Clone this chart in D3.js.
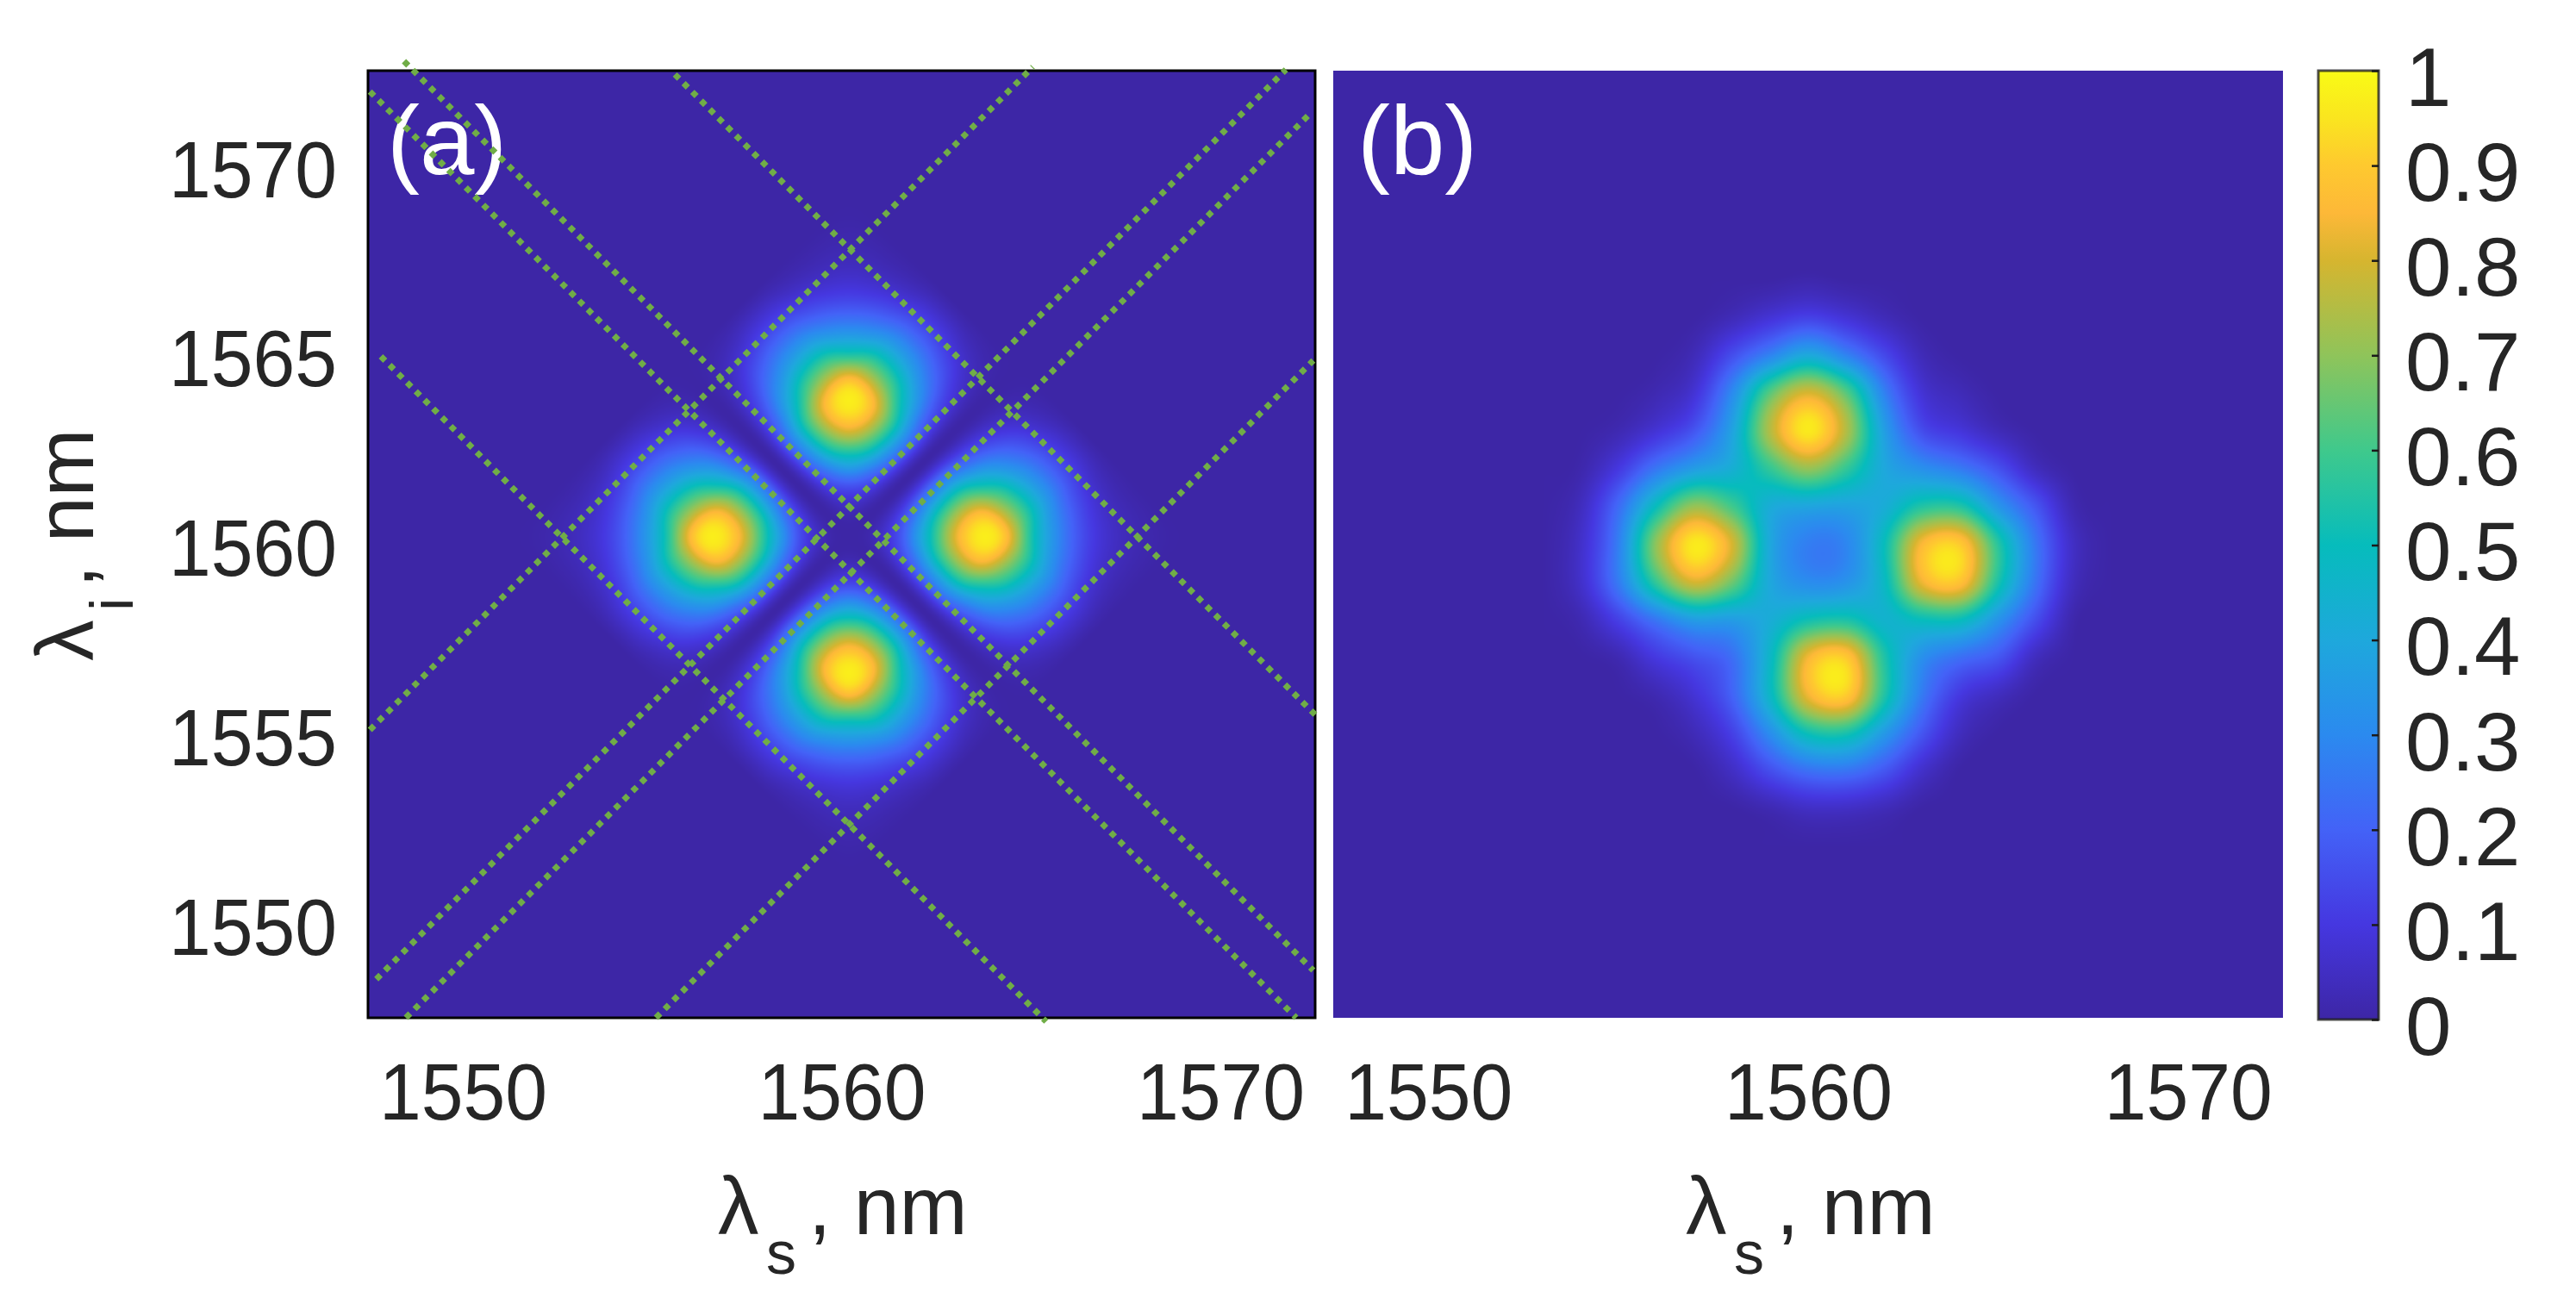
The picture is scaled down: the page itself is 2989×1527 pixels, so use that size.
<!DOCTYPE html>
<html>
<head>
<meta charset="utf-8">
<style>
  body { margin: 0; background: white; }
  text { font-family: "Liberation Sans", Arial, sans-serif; fill: #262626; }
</style>
<script src="https://d3js.org/d3.v7.min.js"></script>
</head>
<body>
<script>
// wavelength axes, nm
const axisDomain = [1547.5, 1572.5];
const xTicks = [1550, 1560, 1570];
const yTicks = [1550, 1555, 1560, 1565, 1570];
const barTicks = [0, 0.1, 0.2, 0.3, 0.4, 0.5, 0.6, 0.7, 0.8, 0.9, 1];

// colorbar
const barStops = [0, 0.1, 0.2, 0.3, 0.4, 0.5, 0.6, 0.7, 0.8, 0.85, 0.9, 0.95, 1];
const barColors = ["#3d26a6", "#4537e0", "#4362f7", "#2b8aef", "#1ea8dc", "#06bcbc",
  "#3fc98c", "#8fc45a", "#d6b52f", "#fdb838", "#fec92f", "#fae51f", "#f9fb15"];

// panel (a), percent of max. The pattern follows the diagonals so it is read
// along them: rows are ls+li, columns are li-ls, 1 nm apart
const gridAsum = [3112.4, 3113.4, 3114.4, 3115.4, 3116.4, 3117.4, 3118.4, 3119.4, 3120.4,
  3121.4, 3122.4, 3123.4, 3124.4, 3125.4, 3126.4, 3127.4, 3128.4];
const gridAdiff = [-8, -7, -6, -5, -4, -3, -2, -1, 0, 1, 2, 3, 4, 5, 6, 7, 8];
const valuesA = [
  [1,2,3,5,8,8,5,2,0,2,5,8,8,5,3,2,1],
  [2,5,9,15,21,21,15,6,0,6,15,21,21,15,9,5,2],
  [3,9,18,29,40,39,28,12,0,12,28,39,40,29,18,9,3],
  [5,15,29,46,65,64,45,19,0,19,45,64,65,46,29,15,5],
  [8,21,40,65,92,90,63,27,0,27,63,90,92,65,40,21,8],
  [8,21,39,64,90,88,62,26,0,26,62,88,90,64,39,21,8],
  [5,15,28,45,63,62,44,18,0,18,44,62,63,45,28,15,5],
  [2,6,12,19,27,26,18,8,0,8,18,26,27,19,12,6,2],
  [0,0,0,0,0,0,0,0,0,0,0,0,0,0,0,0,0],
  [2,6,12,19,27,26,18,8,0,8,18,26,27,19,12,6,2],
  [5,15,28,45,63,62,44,18,0,18,44,62,63,45,28,15,5],
  [8,21,39,64,90,88,62,26,0,26,62,88,90,64,39,21,8],
  [8,21,40,65,92,90,63,27,0,27,63,90,92,65,40,21,8],
  [5,15,29,46,65,64,45,19,0,19,45,64,65,46,29,15,5],
  [3,9,18,29,40,39,28,12,0,12,28,39,40,29,18,9,3],
  [2,5,9,15,21,21,15,6,0,6,15,21,21,15,9,5,2],
  [1,2,3,5,8,8,5,2,0,2,5,8,8,5,3,2,1]
];

// panel (b), percent of max, rows are li, columns are ls
const gridBx = [1552, 1553, 1554, 1555, 1556, 1557, 1558, 1559, 1560,
  1561, 1562, 1563, 1564, 1565, 1566, 1567, 1568];
const gridBy = [1568, 1567, 1566, 1565, 1564, 1563, 1562, 1561, 1560,
  1559, 1558, 1557, 1556, 1555, 1554, 1553, 1552];
const valuesB = [
  [0,0,0,0,0,0,0,0,0,0,0,0,0,0,0,0,0],
  [0,0,0,0,0,0,0,0,1,0,0,0,0,0,0,0,0],
  [0,0,0,0,0,0,3,8,12,8,3,0,0,0,0,0,0],
  [0,0,0,0,0,3,15,28,40,28,14,3,0,0,0,0,0],
  [0,0,0,0,2,8,30,63,80,63,28,8,3,0,0,0,0],
  [0,0,0,2,8,17,38,75,96,75,37,15,9,3,0,0,0],
  [0,0,1,10,25,36,43,58,71,58,40,32,26,16,4,0,0],
  [0,0,4,22,50,71,60,42,39,38,42,55,55,34,17,2,0],
  [0,0,6,27,70,96,80,40,27,29,50,85,90,56,25,5,0],
  [0,0,6,26,58,80,66,40,31,33,48,83,88,54,24,4,0],
  [0,0,2,12,25,36,36,42,52,54,45,50,50,33,15,1,0],
  [0,0,0,2,10,16,23,47,84,90,55,32,23,17,4,0,0],
  [0,0,0,0,2,8,20,47,83,90,55,26,10,4,0,0,0],
  [0,0,0,0,0,3,12,31,51,53,35,17,4,0,0,0,0],
  [0,0,0,0,0,0,5,15,23,24,17,6,0,0,0,0,0],
  [0,0,0,0,0,0,0,2,5,5,3,0,0,0,0,0,0],
  [0,0,0,0,0,0,0,0,0,0,0,0,0,0,0,0,0]
];

// green dotted lines in panel (a): x+y = const and y-x = const, with x start / end
const fallSums = [3128, 3112.8, 3121.2, 3119.5];
const fallFrom = [1555.6, 1547.84, 1548.45, 1547.55];
const fallTo = [1572.5, 1565.4, 1572.45, 1572];
const riseDiffs = [7.55, 0.8, -1, -7.6];
const riseFrom = [1547.55, 1547.72, 1548.5, 1555.1];
const riseTo = [1565.05, 1571.73, 1572.4, 1572.45];

const W = 2989, H = 1527;
const plotTop = 82, plotBottom = 1181;
const fontSize = 93;

const svg = d3.select("body").append("svg")
  .attr("width", W)
  .attr("height", H)
  .style("display", "block");

const y = d3.scaleLinear().domain(axisDomain).range([plotBottom, plotTop]);
const xA = d3.scaleLinear().domain(axisDomain).range([427, 1526]);
const xB = d3.scaleLinear().domain(axisDomain).range([1547, 2649]);
const barY = d3.scaleLinear().domain([0, 1]).range([1183, 82]);
const color = d3.scaleLinear().domain(barStops).range(barColors).interpolate(d3.interpolateRgb);

// lookup so the per pixel loop doesn't parse a color string each time
const lut = d3.range(1025).map(i => d3.rgb(color(i / 1024)));

function cubic(p0, p1, p2, p3, t) {
  return p1 + 0.5 * t * (p2 - p0 + t * (2 * p0 - 5 * p1 + 4 * p2 - p3 + t * (3 * (p1 - p2) + p3 - p0)));
}

const indexOf = grid => d3.scaleLinear()
  .domain([grid[0], grid[grid.length - 1]])
  .range([0, grid.length - 1]);

// paints the table on a canvas, smoothed like shading interp, returns a data url
// locate gives the fractional [row, col] of a wavelength pair
function heatmap(values, locate, x) {
  const wPx = Math.round(x.range()[1] - x.range()[0]);
  const hPx = plotBottom - plotTop;
  const canvas = document.createElement("canvas");
  canvas.width = wPx;
  canvas.height = hPx;
  const ctx = canvas.getContext("2d");
  const img = ctx.createImageData(wPx, hPx);
  const at = (r, c) => (values[r] && values[r][c]) || 0;

  for (let j = 0; j < hPx; j++) {
    const li = y.invert(plotTop + j + 0.5);
    for (let i = 0; i < wPx; i++) {
      const [fr, fc] = locate(x.invert(x.range()[0] + i + 0.5), li);
      const r = Math.floor(fr), tr = fr - r;
      const c = Math.floor(fc), tc = fc - c;
      const rows = [-1, 0, 1, 2].map(k =>
        cubic(at(r + k, c - 1), at(r + k, c), at(r + k, c + 1), at(r + k, c + 2), tc));
      const v = Math.max(0, Math.min(100, cubic(rows[0], rows[1], rows[2], rows[3], tr))) / 100;
      const rgb = lut[Math.round(v * 1024)];
      const p = 4 * (j * wPx + i);
      img.data[p] = rgb.r;
      img.data[p + 1] = rgb.g;
      img.data[p + 2] = rgb.b;
      img.data[p + 3] = 255;
    }
  }
  ctx.putImageData(img, 0, 0);
  return canvas.toDataURL();
}

function drawPanel(values, locate, x) {
  svg.append("image")
    .attr("x", x.range()[0])
    .attr("y", plotTop)
    .attr("width", x.range()[1] - x.range()[0])
    .attr("height", plotBottom - plotTop)
    .attr("preserveAspectRatio", "none")
    .attr("href", heatmap(values, locate, x));
}

const sumIndex = indexOf(gridAsum), diffIndex = indexOf(gridAdiff);
const rowB = indexOf(gridBy), colB = indexOf(gridBx);
drawPanel(valuesA, (ls, li) => [sumIndex(ls + li), diffIndex(li - ls)], xA);
drawPanel(valuesB, (ls, li) => [rowB(li), colB(ls)], xB);

// black frame on (a) only
svg.append("rect")
  .attr("x", xA.range()[0])
  .attr("y", plotTop)
  .attr("width", xA.range()[1] - xA.range()[0])
  .attr("height", plotBottom - plotTop)
  .attr("fill", "none")
  .attr("stroke", "black")
  .attr("stroke-width", 3);

// panel letters, the green dots run over the (a)
svg.append("text").attr("x", 449).attr("y", 202)
  .style("font-size", "114px").style("fill", "white").text("(a)");
svg.append("text").attr("x", 1575).attr("y", 202)
  .style("font-size", "114px").style("fill", "white").text("(b)");

const segment = d3.line().x(d => xA(d[0])).y(d => y(d[1]));
const fallLines = fallSums.map((s, i) => [[fallFrom[i], s - fallFrom[i]], [fallTo[i], s - fallTo[i]]]);
const riseLines = riseDiffs.map((s, i) => [[riseFrom[i], s + riseFrom[i]], [riseTo[i], s + riseTo[i]]]);

svg.append("g")
  .selectAll("path")
  .data(fallLines.concat(riseLines))
  .join("path")
    .attr("d", segment)
    .attr("fill", "none")
    .attr("stroke", "#70ad47")
    .attr("stroke-width", 7)
    .attr("stroke-dasharray", "7 7.3");

function styleAxis(g, size) {
  g.select(".domain").remove();
  g.selectAll("text")
    .style("font-size", size + "px")
    .style("font-family", "Liberation Sans")
    .style("fill", "#262626");
}

// the figure was stretched a bit, so the digits are narrower than the font's
function squeeze(g) {
  g.selectAll("text")
    .attr("textLength", 195)
    .attr("lengthAdjust", "spacingAndGlyphs");
}

[xA, xB].forEach(x => {
  svg.append("g")
    .attr("transform", `translate(0, ${plotBottom})`)
    .call(d3.axisBottom(x).tickValues(xTicks).tickFormat(d3.format("d")).tickSize(0).tickPadding(52))
    .call(g => styleAxis(g, fontSize))
    .call(squeeze);
});

svg.append("g")
  .attr("transform", `translate(${xA.range()[0]}, 0)`)
  .call(d3.axisLeft(y).tickValues(yTicks).tickFormat(d3.format("d")).tickSize(0).tickPadding(36))
  .call(g => styleAxis(g, fontSize))
  .call(squeeze)
  .call(g => g.selectAll("text").attr("dy", "0.39em"));

// colorbar
const defs = svg.append("defs");
const gradient = defs.append("linearGradient")
  .attr("id", "barGradient")
  .attr("x1", 0).attr("x2", 0)
  .attr("y1", 1).attr("y2", 0);
gradient.selectAll("stop")
  .data(barStops)
  .join("stop")
    .attr("offset", d => d)
    .attr("stop-color", (d, i) => barColors[i]);

svg.append("rect")
  .attr("x", 2690)
  .attr("y", barY(1))
  .attr("width", 70)
  .attr("height", barY(0) - barY(1))
  .attr("fill", "url(#barGradient)")
  .attr("stroke", "#222")
  .attr("stroke-opacity", 0.8)
  .attr("stroke-width", 3);

svg.append("g")
  .attr("transform", "translate(2760, 0)")
  .call(d3.axisRight(barY).tickValues(barTicks).tickFormat(d => String(d)).tickSizeInner(-8).tickSizeOuter(0).tickPadding(31))
  .call(g => styleAxis(g, 96))
  .call(g => g.selectAll("text").attr("dy", "0.42em"))
  .call(g => g.selectAll("line").attr("stroke", "#1a1a1a").attr("stroke-width", 2.5));

// axis titles, lambda + subscript as separate pieces
function lambdaLabel(g, sub, subX, restX) {
  const t = g.append("text").style("font-size", "95px");
  t.append("tspan").attr("x", 0).attr("y", 0).text("λ");
  t.append("tspan").attr("x", subX).attr("y", 46).style("font-size", "70px").text(sub);
  t.append("tspan").attr("x", restX).attr("y", 0).text(", nm");
}
lambdaLabel(svg.append("g").attr("transform", "translate(833, 1432)"), "s", 56, 105);
lambdaLabel(svg.append("g").attr("transform", "translate(1956, 1432)"), "s", 56, 105);
lambdaLabel(svg.append("g").attr("transform", "translate(108, 767) rotate(-90)"), "i", 58, 85);
</script>
</body>
</html>
